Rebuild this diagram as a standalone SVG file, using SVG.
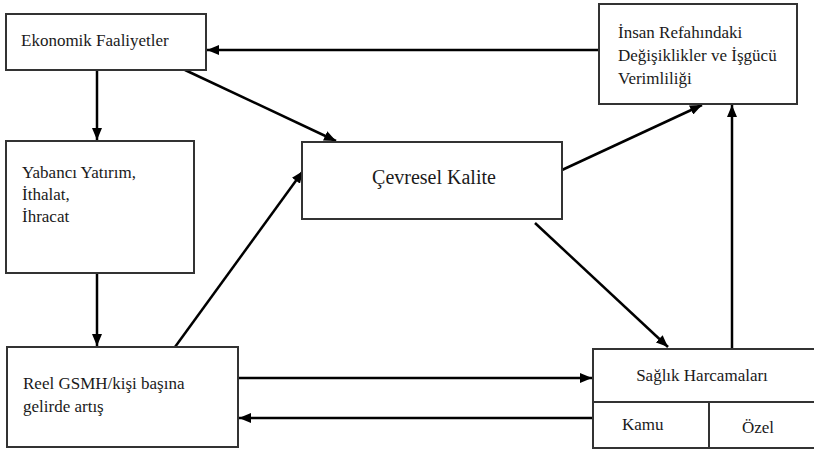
<svg xmlns="http://www.w3.org/2000/svg" width="814" height="451" viewBox="0 0 814 451">
<style>
.box{fill:#fff;stroke:#333;stroke-width:2}
.t{font-family:'Liberation Serif','Times New Roman','DejaVu Serif',serif;font-size:17px;fill:#1a1a1a}
.big{font-size:20px}
.c{fill:none;stroke:#000;stroke-width:2.5}
</style>
<defs>
<marker id="ah" viewBox="0 0 12 10" refX="12" refY="5" markerWidth="12" markerHeight="10" markerUnits="userSpaceOnUse" orient="auto">
<path d="M0,0 L12,5 L0,10 Z" fill="#000"/>
</marker>
</defs>
<rect width="814" height="451" fill="#fff"/>
<g id="connectors">
<line class="c" x1="598" y1="50" x2="207" y2="50" marker-end="url(#ah)"/>
<line class="c" x1="97" y1="70" x2="97" y2="140" marker-end="url(#ah)"/>
<line class="c" x1="185" y1="70" x2="336" y2="141" marker-end="url(#ah)"/>
<line class="c" x1="97" y1="273" x2="97" y2="346" marker-end="url(#ah)"/>
<line class="c" x1="175" y1="347" x2="303" y2="171" marker-end="url(#ah)"/>
<line class="c" x1="562" y1="170" x2="702" y2="105" marker-end="url(#ah)"/>
<line class="c" x1="535" y1="223" x2="668" y2="347" marker-end="url(#ah)"/>
<line class="c" x1="732" y1="349" x2="732" y2="105" marker-end="url(#ah)"/>
<line class="c" x1="239" y1="378" x2="592" y2="378" marker-end="url(#ah)"/>
<line class="c" x1="592" y1="418" x2="239" y2="418" marker-end="url(#ah)"/>
</g>
<g id="ekonomik">
<rect class="box" x="6" y="14" width="200" height="56"/>
<text class="t" x="21" y="46">Ekonomik Faaliyetler</text>
</g>
<g id="insan">
<rect class="box" x="599" y="4" width="198" height="100"/>
<text class="t" x="618" y="38">İnsan Refahındaki</text>
<text class="t" x="618" y="61">Değişiklikler ve İşgücü</text>
<text class="t" x="618" y="84">Verimliliği</text>
</g>
<g id="yabanci">
<rect class="box" x="6" y="141" width="188" height="132"/>
<text class="t" x="22" y="178">Yabancı Yatırım,</text>
<text class="t" x="22" y="200">İthalat,</text>
<text class="t" x="22" y="222">İhracat</text>
</g>
<g id="cevresel">
<rect class="box" x="302" y="142" width="260" height="77"/>
<text class="t big" x="434" y="184" text-anchor="middle">Çevresel Kalite</text>
</g>
<g id="reel">
<rect class="box" x="7" y="347" width="231" height="100"/>
<text class="t" x="23" y="389">Reel GSMH/kişi başına</text>
<text class="t" x="23" y="412">gelirde artış</text>
</g>
<g id="saglik">
<rect class="box" x="593" y="349" width="222" height="99"/>
<line x1="593" y1="402" x2="815" y2="402" stroke="#333" stroke-width="2"/>
<line x1="709" y1="402" x2="709" y2="448" stroke="#333" stroke-width="2"/>
<text class="t" x="702" y="381" text-anchor="middle">Sağlık Harcamaları</text>
<text class="t" x="622" y="430">Kamu</text>
<text class="t" x="742" y="433">Özel</text>
</g>
</svg>
